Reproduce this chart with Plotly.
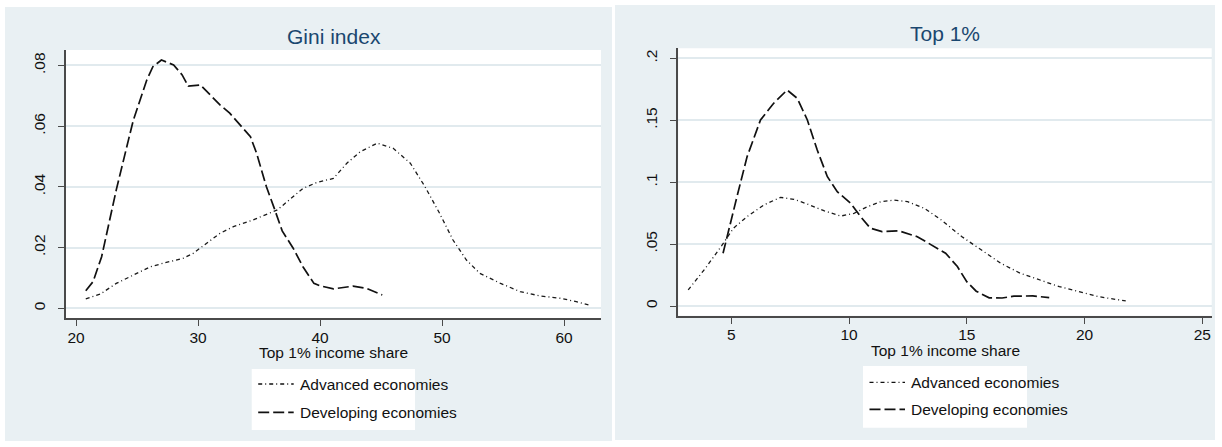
import plotly.graph_objects as go

# Kernel density of the Gini index, by country group
gini_adv_x = [20.8, 22.0, 23.3, 24.7, 26.1, 27.4, 28.8, 29.6, 30.7, 31.8, 32.9, 34.5, 36.5, 37.5,
              38.6, 39.7, 41.1, 42.2, 43.3, 44.7, 46.0, 47.4, 48.6, 49.8, 50.9, 52.0, 53.1, 54.8,
              56.4, 58.0, 59.7, 61.0, 62.0]
gini_adv_y = [0.0031, 0.0047, 0.0082, 0.0110, 0.0137, 0.0151, 0.0165, 0.0181, 0.0214, 0.0247,
              0.0269, 0.0291, 0.0324, 0.0357, 0.0395, 0.0414, 0.0428, 0.0478, 0.0516, 0.0544,
              0.0527, 0.0478, 0.0401, 0.0313, 0.0225, 0.0159, 0.0115, 0.0082, 0.0055, 0.0041,
              0.0033, 0.0022, 0.0011]
gini_dev_x = [20.8, 21.4, 22.1, 22.6, 23.3, 24.3, 24.7, 25.8, 26.3, 27.0, 28.0, 28.7, 29.2, 30.2,
              31.0, 31.8, 32.6, 33.3, 34.3, 34.8, 35.6, 36.2, 36.9, 37.8, 38.6, 39.5, 40.0, 41.1,
              42.7, 43.8, 45.1]
gini_dev_y = [0.0058, 0.0088, 0.0170, 0.0265, 0.0390, 0.0555, 0.0620, 0.0752, 0.0796, 0.0818,
              0.0802, 0.0769, 0.0732, 0.0736, 0.0703, 0.0670, 0.0643, 0.0610, 0.0565, 0.0511,
              0.0401, 0.0335, 0.0255, 0.0198, 0.0137, 0.0082, 0.0074, 0.0064, 0.0073, 0.0066,
              0.0044]

# Kernel density of the top 1% income share, by country group
top1_adv_x = [3.17, 3.9, 4.6, 5.1, 5.67, 6.38, 7.09, 7.66, 8.23, 8.93, 9.65, 10.21, 10.78, 11.35,
              11.92, 12.49, 13.2, 13.92, 14.78, 15.61, 16.44, 17.27, 18.1, 18.93, 19.76, 20.59,
              21.75]
top1_adv_y = [0.0130, 0.0305, 0.0490, 0.0630, 0.0722, 0.0816, 0.0878, 0.0862, 0.0824, 0.0770,
              0.0727, 0.0749, 0.0802, 0.0843, 0.0856, 0.0843, 0.0789, 0.0695, 0.0562, 0.0454,
              0.0346, 0.0265, 0.0211, 0.0157, 0.0116, 0.0076, 0.0041]
top1_dev_x = [4.65, 4.88, 5.24, 5.67, 6.24, 6.8, 7.37, 7.8, 8.23, 8.65, 9.08, 9.5, 10.07, 10.5,
              10.9, 11.4, 12.1, 12.9, 13.6, 14.1, 14.6, 15.0, 15.4, 15.95, 16.5, 17.0, 17.8, 18.5]
top1_dev_y = [0.0426, 0.0614, 0.0883, 0.1206, 0.1503, 0.1638, 0.1745, 0.1678, 0.1503, 0.1260,
              0.1045, 0.0924, 0.0830, 0.0720, 0.0630, 0.0601, 0.0608, 0.0560, 0.0480, 0.0427,
              0.0319, 0.0197, 0.0120, 0.0066, 0.0065, 0.0080, 0.0082, 0.0068]

gini_xticks = [20, 30, 40, 50, 60]
gini_yticks = [0, 0.02, 0.04, 0.06, 0.08]
gini_ylabels = ["0", ".02", ".04", ".06", ".08"]
top1_xticks = [5, 10, 15, 20, 25]
top1_yticks = [0, 0.05, 0.1, 0.15, 0.2]
top1_ylabels = ["0", ".05", ".1", ".15", ".2"]

panel_titles = ["Gini index", "Top 1%"]
xaxis_title = "Top 1% income share"
series_names = ["Advanced economies", "Developing economies"]

W, H = 1222, 447
FONT = "Liberation Sans, Arial, Helvetica, sans-serif"
BG = "#e9f0f3"
GRID = "#e1eaee"
AXIS = "#4a4a4a"
NAVY = "#1a476f"
ADV_DASH = "4px,3px,1px,3px"
DEV_DASH = "11px,4px"


def px(x):
    return x / W


def py(y):
    return 1 - y / H


fig = go.Figure()

for xs, ys, ax in [(gini_adv_x, gini_adv_y, ("x", "y")), (top1_adv_x, top1_adv_y, ("x2", "y2"))]:
    fig.add_trace(go.Scatter(x=xs, y=ys, xaxis=ax[0], yaxis=ax[1], mode="lines",
                             line=dict(color="#1a1a1a", width=1.3, dash=ADV_DASH),
                             name=series_names[0], showlegend=False, hoverinfo="skip"))
for xs, ys, ax in [(gini_dev_x, gini_dev_y, ("x", "y")), (top1_dev_x, top1_dev_y, ("x2", "y2"))]:
    fig.add_trace(go.Scatter(x=xs, y=ys, xaxis=ax[0], yaxis=ax[1], mode="lines",
                             line=dict(color="#111111", width=1.7, dash=DEV_DASH),
                             name=series_names[1], showlegend=False, hoverinfo="skip"))

# panel geometry in pixels: plot-area left, right, top, bottom
panels = [
    dict(plot=(66, 601, 50, 318), bg=(5, 612, 7, 441), xr=[19.18, 63.03], yr=[-0.0032, 0.0851],
         xt=gini_xticks, yt=gini_yticks, yl=gini_ylabels, title_y=36, axt_y=352,
         leg=(251.7, 415, 369, 430), leg_rows=(384, 412.3)),
    dict(plot=(678.3, 1211.7, 48.3, 315.7), bg=(615, 1215, 5, 440), xr=[2.75, 25.4],
         yr=[-0.0078, 0.2082], xt=top1_xticks, yt=top1_yticks, yl=top1_ylabels, title_y=33.5,
         axt_y=350, leg=(863, 1027, 366, 427.7), leg_rows=(382.3, 409.3)),
]

shapes = []
annotations = []
layout_axes = {}

for i, p in enumerate(panels):
    l, r, t, b = p["plot"]
    bl, br, bt, bb = p["bg"]
    sfx = "" if i == 0 else str(i + 1)
    layout_axes["xaxis" + sfx] = dict(
        domain=[px(l), px(r)], range=p["xr"], anchor="y" + sfx, tickvals=p["xt"],
        ticks="outside", ticklen=6, tickwidth=1.3, tickcolor=AXIS, showline=True,
        linecolor=AXIS, linewidth=2, showgrid=False, zeroline=False, ticklabelstandoff=-2,
        tickfont=dict(family=FONT, size=15.5, color="#111111"), fixedrange=True)
    layout_axes["yaxis" + sfx] = dict(
        domain=[py(b), py(t)], range=p["yr"], anchor="x" + sfx, tickvals=p["yt"],
        ticktext=p["yl"], tickangle=-90, ticks="outside", ticklen=6, tickwidth=1.3,
        tickcolor=AXIS, showline=True, linecolor=AXIS, linewidth=2, showgrid=True,
        gridcolor=GRID, gridwidth=1.6, zeroline=False, ticklabelstandoff=7,
        tickfont=dict(family=FONT, size=15.5, color="#111111"), fixedrange=True)

    # panel background, white plot region and legend box
    shapes.append(dict(type="rect", xref="paper", yref="paper", layer="below",
                       x0=px(bl), x1=px(br), y0=py(bb), y1=py(bt),
                       fillcolor=BG, line=dict(width=0)))
    shapes.append(dict(type="rect", xref="paper", yref="paper", layer="below",
                       x0=px(l), x1=px(r), y0=py(b), y1=py(t),
                       fillcolor="white", line=dict(width=0)))
    ll, lr, lt, lb = p["leg"]
    shapes.append(dict(type="rect", xref="paper", yref="paper", layer="below",
                       x0=px(ll), x1=px(lr), y0=py(lb), y1=py(lt),
                       fillcolor="white", line=dict(width=0)))

    cx = (l + r) / 2
    annotations.append(dict(text=panel_titles[i], x=px(cx), y=py(p["title_y"]), xref="paper",
                            yref="paper", xanchor="center", yanchor="middle", showarrow=False,
                            font=dict(family=FONT, size=21, color=NAVY)))
    annotations.append(dict(text=xaxis_title, x=px(cx), y=py(p["axt_y"]), xref="paper",
                            yref="paper", xanchor="center", yanchor="middle", showarrow=False,
                            font=dict(family=FONT, size=15.5, color="#111111")))

    # legend keys
    for name, row, dash, wdt in zip(series_names, p["leg_rows"], [ADV_DASH, DEV_DASH], [1.3, 1.7]):
        shapes.append(dict(type="line", xref="paper", yref="paper",
                           x0=px(ll + 6.5), x1=px(ll + 42), y0=py(row), y1=py(row),
                           line=dict(color="#111111", width=wdt, dash=dash)))
        annotations.append(dict(text=name, x=px(ll + 46.5), y=py(row), xref="paper",
                                yref="paper", xanchor="left", yanchor="middle", showarrow=False,
                                font=dict(family=FONT, size=15.5, color="#111111")))

fig.update_layout(
    width=W, height=H, margin=dict(l=0, r=0, t=0, b=0),
    paper_bgcolor="white", plot_bgcolor="rgba(0,0,0,0)",
    shapes=shapes, annotations=annotations, showlegend=False,
    **layout_axes,
)

fig.write_html("out.html", config={"displayModeBar": False})
